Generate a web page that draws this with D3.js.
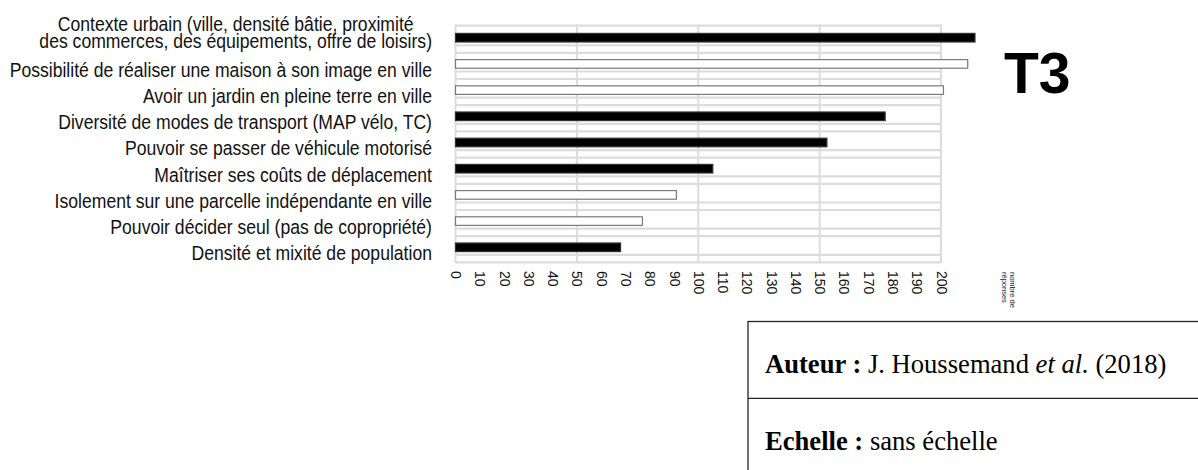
<!DOCTYPE html>
<html>
<head>
<meta charset="utf-8">
<script src="https://cdn.jsdelivr.net/npm/d3@7"></script>
<style>
  html, body { margin: 0; padding: 0; background: #fff; }
  svg { display: block; }
</style>
</head>
<body>
<svg id="chart" width="1198" height="470"></svg>
<script>
// Reasons given, number of answers, and the two groups of reasons
const categories = [
  ["Contexte urbain (ville, densité bâtie, proximité", "des commerces, des équipements, offre de loisirs)"],
  ["Possibilité de réaliser une maison à son image en ville"],
  ["Avoir un jardin en pleine terre en ville"],
  ["Diversité de modes de transport (MAP vélo, TC)"],
  ["Pouvoir se passer de véhicule motorisé"],
  ["Maîtriser ses coûts de déplacement"],
  ["Isolement sur une parcelle indépendante en ville"],
  ["Pouvoir décider seul (pas de copropriété)"],
  ["Densité et mixité de population"]
];
const values = [214, 211, 201, 177, 153, 106, 91, 77, 68];
const groups = ["ville", "maison", "maison", "ville", "ville", "ville", "maison", "maison", "ville"];
const tickValues = d3.range(0, 201, 10);
const gridValues = [0, 50, 100, 150, 200];
const axisTitle = ["nombre de", "réponses"];
const panelTitle = "T3";
const credits = [
  { label: "Auteur :", parts: [{ t: " J. Houssemand ", i: false }, { t: "et al.", i: true }, { t: " (2018)", i: false }] },
  { label: "Echelle :", parts: [{ t: " sans échelle", i: false }] }
];

const svg = d3.select("#chart");
const sans = "'Liberation Sans', Arial, Helvetica, sans-serif";
const serif = "'Liberation Serif', 'Times New Roman', serif";

const x = d3.scaleLinear().domain([0, 200]).range([455.5, 941]);
const y = d3.scaleBand().domain(d3.range(categories.length)).range([24.6, 260.4]).paddingInner(0).paddingOuter(0);
const barH = 8.6;
const fill = d3.scaleOrdinal().domain(["ville", "maison"]).range(["#000000", "#ffffff"]);
const stroke = d3.scaleOrdinal().domain(["ville", "maison"]).range(["#333333", "#7a7a7a"]);

// grid: double light rules between rows, plus vertical rules every 50
const grid = svg.append("g");
const bounds = d3.range(categories.length + 1).map(i => y.range()[0] + i * y.step());
bounds.forEach((b, i) => {
  const ys = i === 0 ? [b + 1] : [b - 5.5, b + 2];
  ys.forEach(yy => {
    grid.append("line")
      .attr("x1", x(0)).attr("x2", x(200))
      .attr("y1", yy).attr("y2", yy)
      .attr("stroke", "#dcdcdc").attr("stroke-width", 2.2);
  });
});
grid.selectAll("line.v").data(gridValues).join("line")
  .attr("class", "v")
  .attr("x1", d => x(d)).attr("x2", d => x(d))
  .attr("y1", 24.5).attr("y2", 263)
  .attr("stroke", "#dcdcdc").attr("stroke-width", 2);

// bars
svg.append("g").selectAll("rect").data(values).join("rect")
  .attr("x", x(0))
  .attr("y", (d, i) => y(i) + y.bandwidth() / 2 - barH / 2)
  .attr("width", d => x(d) - x(0))
  .attr("height", barH)
  .attr("fill", (d, i) => fill(groups[i]))
  .attr("stroke", (d, i) => stroke(groups[i]))
  .attr("stroke-width", 1.2);

// category labels, right-aligned as a block, centred within multi-line blocks,
// set in a slightly tall, narrow-looking face
const labelRight = 432;
const fs = 17.6;
const stretch = 1.13;
const lineH = 17.5;
const lg = svg.append("g").attr("font-family", sans).attr("font-size", fs).attr("fill", "#111");
categories.forEach((lines, i) => {
  const n = lines.length;
  const cy = y(i) + y.bandwidth() / 2 + (n > 1 ? -5 : 6);
  const g = lg.append("g").attr("transform", `translate(0,${cy}) scale(1,${stretch})`);
  const t = g.append("text").attr("text-anchor", "middle");
  const spans = lines.map(s => t.append("tspan").text(s));
  const wMax = d3.max(spans.map(s => s.node().getComputedTextLength()));
  const cx = labelRight - wMax / 2;
  spans.forEach((s, k) => {
    s.attr("x", cx).attr("y", (k - (n - 1) / 2) * lineH / stretch).attr("dy", "0.35em");
  });
});

// value axis with vertical tick labels
const axis = d3.axisBottom(x).tickValues(tickValues).tickSize(0).tickPadding(0).tickFormat(d3.format("d"));
const ax = svg.append("g").attr("transform", "translate(0,271)").call(axis);
ax.select(".domain").remove();
ax.selectAll("text")
  .attr("font-family", sans).attr("font-size", 14).attr("fill", "#111")
  .attr("y", 0).attr("x", 0).attr("dy", "0.35em")
  .attr("text-anchor", "start")
  .attr("transform", "rotate(90)");

// axis title, small and turned
const at = svg.append("text")
  .attr("transform", `translate(${1010},272) rotate(90)`)
  .attr("font-family", sans).attr("font-size", 7.5).attr("fill", "#222");
axisTitle.forEach((s, k) => at.append("tspan").attr("x", 0).attr("dy", k === 0 ? 0 : 8).text(s));

// panel title
svg.append("text")
  .attr("x", 1004).attr("y", 93)
  .attr("font-family", sans).attr("font-weight", "bold").attr("font-size", 57)
  .attr("fill", "#000").text(panelTitle);

// credits box
const box = svg.append("g");
box.append("rect")
  .attr("x", 748).attr("y", 321.5).attr("width", 470).attr("height", 170)
  .attr("fill", "none").attr("stroke", "#222").attr("stroke-width", 1.3);
box.append("line").attr("x1", 748).attr("x2", 1198).attr("y1", 398.3).attr("y2", 398.3)
  .attr("stroke", "#222").attr("stroke-width", 1.3);
credits.forEach((c, k) => {
  const t = box.append("text")
    .attr("x", 765).attr("y", 373 + k * 77)
    .attr("font-family", serif).attr("font-size", 26.6).attr("fill", "#000");
  t.append("tspan").attr("font-weight", "bold").text(c.label);
  c.parts.forEach(p => t.append("tspan").attr("font-style", p.i ? "italic" : "normal").text(p.t));
});
</script>
</body>
</html>
